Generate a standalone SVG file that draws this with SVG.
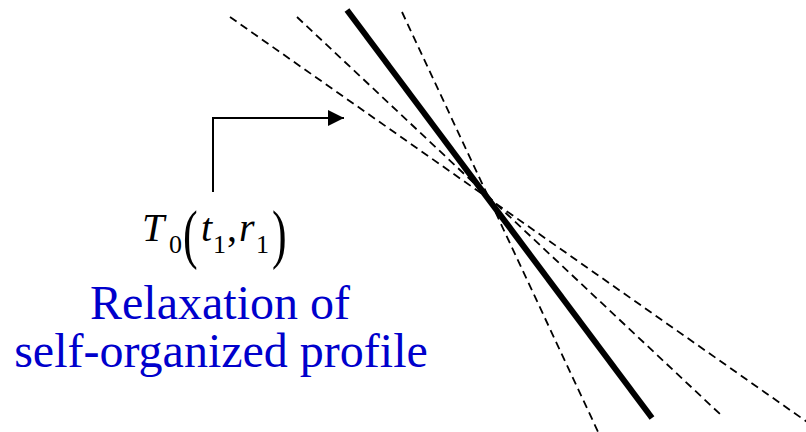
<svg xmlns="http://www.w3.org/2000/svg" width="806" height="432" viewBox="0 0 806 432">
<defs>
<style>
.dash{stroke:#000;stroke-width:1.8;stroke-dasharray:8 5;fill:none}
.thick{stroke:#000;stroke-width:6;fill:none}
.conn{stroke:#000;stroke-width:2;fill:none}
.m{font-family:"Liberation Serif",serif;fill:#000}
.i{font-style:italic}
.lbl{font-family:"Liberation Serif",serif;font-size:48px;fill:#0000CC;text-anchor:middle}
</style>
<marker id="ah" viewBox="0 0 16 16" refX="16" refY="8" markerWidth="16" markerHeight="16" markerUnits="userSpaceOnUse" orient="auto">
<path d="M0,0 L16,8 L0,16 Z" fill="#000"/>
</marker>
</defs>
<rect width="806" height="432" fill="#fff"/>
<g id="profiles">
<line class="dash" x1="230" y1="17" x2="810" y2="424"/>
<line class="dash" x1="297" y1="17" x2="721" y2="415"/>
<line class="dash" x1="402" y1="12" x2="600" y2="436"/>
<line class="thick" x1="347" y1="10" x2="652" y2="418"/>
</g>
<g id="connectors">
<path class="conn" d="M213,192 L213,118 L344,118" marker-end="url(#ah)"/>
</g>
<g id="formula">
<text class="m i" x="142" y="241" font-size="40">T</text>
<text class="m" x="169" y="253" font-size="26">0</text>
<text class="m" transform="translate(183,256) scale(1,1.5)" font-size="44">(</text>
<text class="m i" x="201" y="241" font-size="40">t</text>
<text class="m" x="213" y="253" font-size="26">1</text>
<text class="m" x="227" y="241" font-size="40">,</text>
<text class="m i" x="239" y="241" font-size="40">r</text>
<text class="m" x="256" y="253" font-size="26">1</text>
<text class="m" transform="translate(272,256) scale(1,1.5)" font-size="44">)</text>
</g>
<g id="label">
<text class="lbl" x="220" y="319">Relaxation of</text>
<text class="lbl" x="221" y="367">self-organized profile</text>
</g>
</svg>
